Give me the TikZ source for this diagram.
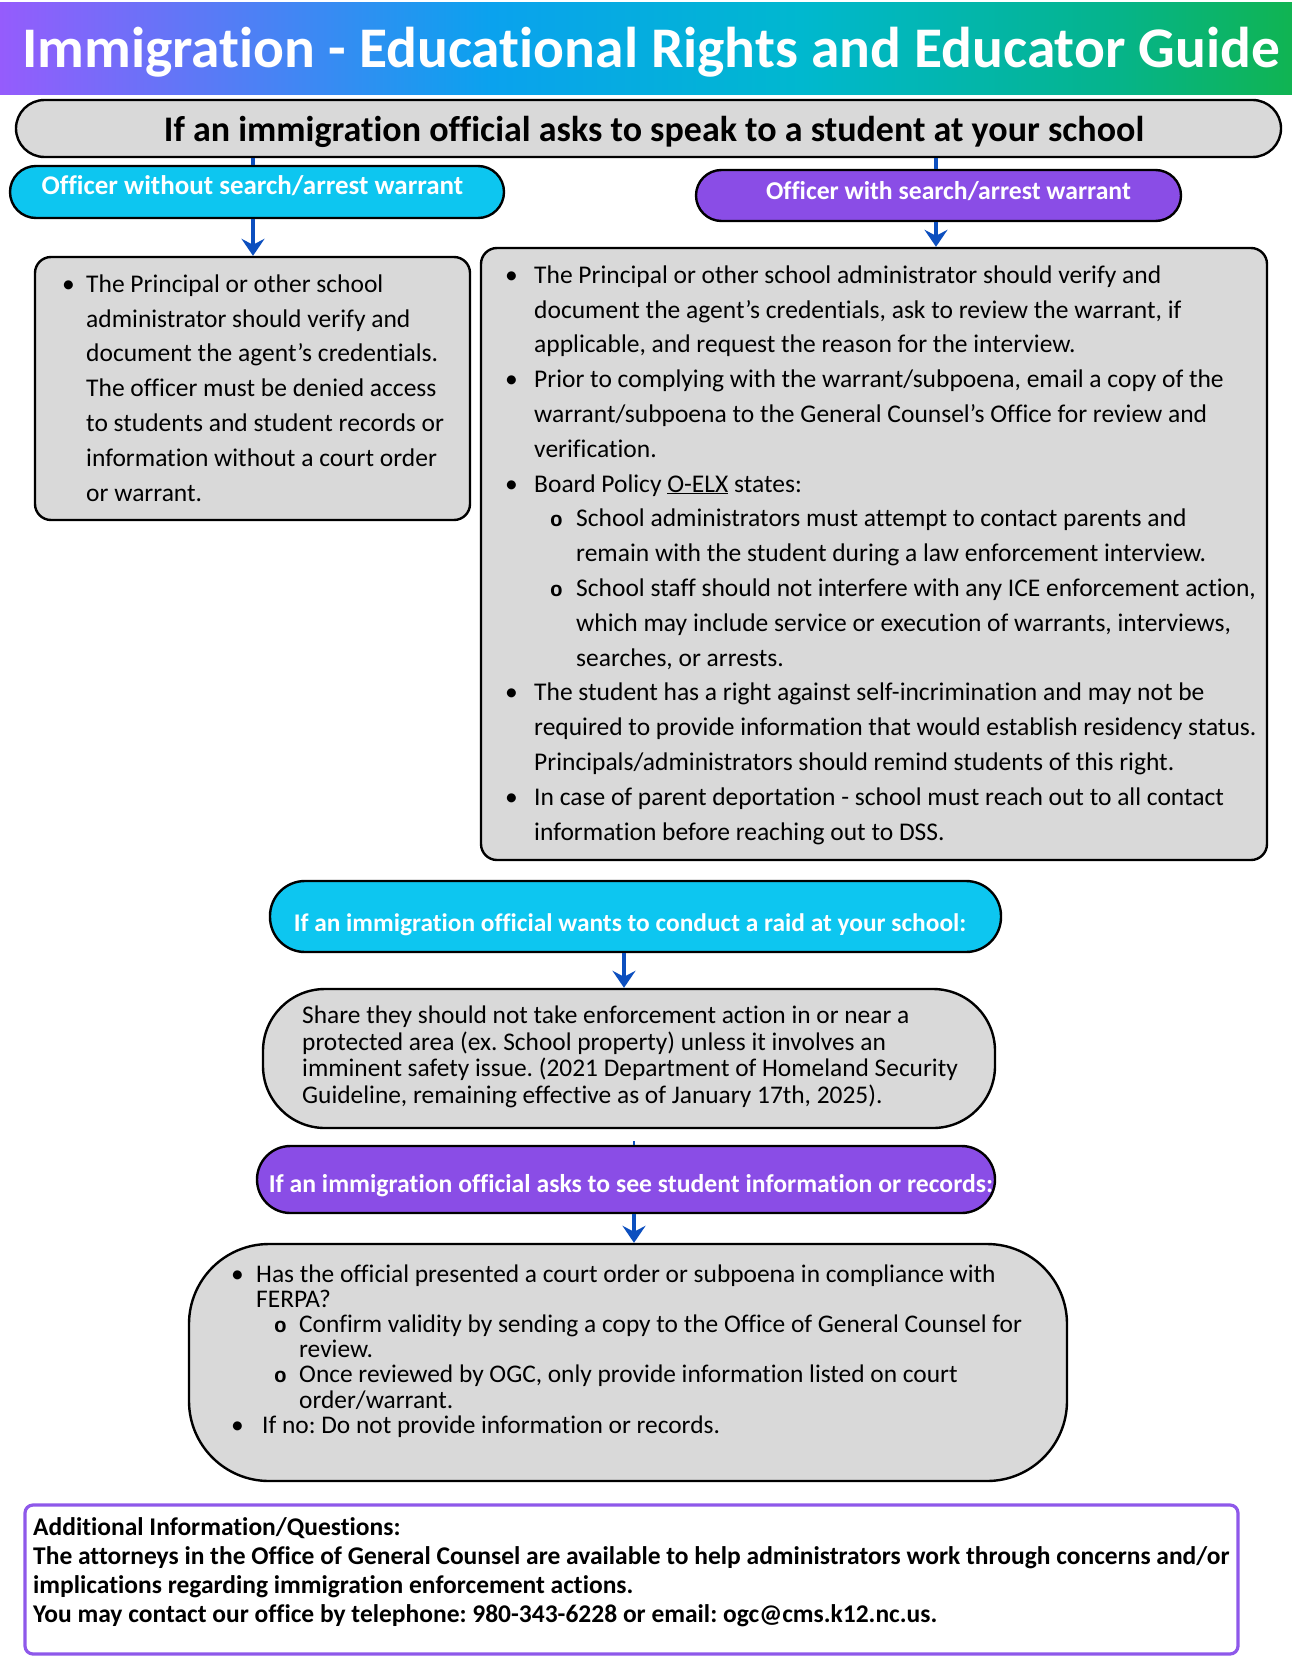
\documentclass[tikz,border=0pt]{standalone}
\usepackage{fontspec}
\setmainfont{Carlito}[Ligatures=NoCommon]
\newfontfamily\monof{Liberation Mono}
\usetikzlibrary{arrows.meta}
\definecolor{tpurple}{HTML}{955CFC}
\definecolor{tblue}{HTML}{0AA2EE}
\definecolor{tteal}{HTML}{00B8CF}
\definecolor{tgreenA}{HTML}{05B48C}
\definecolor{tgreen}{HTML}{10B452}
\definecolor{cyanfill}{HTML}{0DC6F0}
\definecolor{purplefill}{HTML}{8A4DE6}
\definecolor{grayfill}{HTML}{D9D9D9}
\definecolor{arrowblue}{HTML}{0C4FBF}
\definecolor{infopurple}{HTML}{8E58EA}
\pgfdeclarehorizontalshading{titlegrad}{100bp}{color(0bp)=(tpurple); color(25bp)=(tpurple); color(44bp)=(tblue); color(56bp)=(tteal); color(68bp)=(tgreenA); color(75bp)=(tgreen); color(100bp)=(tgreen)}
\newcommand\SA{\rule[-10pt]{0pt}{34.8pt}}
\newcommand\SB{\rule[-7.3pt]{0pt}{25.3pt}}
\newcommand\SC{\rule[-7.17pt]{0pt}{25.17pt}}
\newcommand\SD{\rule[-9pt]{0pt}{29pt}}
\newcommand\Bu[1]{\makebox[#1][l]{\textbullet}}
\newcommand\Ci[1]{\makebox[#1][l]{{\monof\bfseries\fontsize{21}{21}\selectfont o}}}
\tikzset{
  shapebox/.style={draw=black, line width=2.4pt, inner sep=0pt, rectangle},
  graybox/.style={shapebox, fill=grayfill},
  conn/.style={draw=arrowblue, line width=3.5pt},
  arr/.style={conn, -{Stealth[length=17pt,width=23pt,inset=6pt]}},
  txt/.style={anchor=north west, inner sep=0pt, align=left},
  pilltxt/.style={anchor=base, inner sep=0pt, text=white, font=\fontsize{25.7}{30}\selectfont\bfseries}
}
\begin{document}
\frenchspacing
\begin{tikzpicture}[x=1pt,y=-1pt]
\useasboundingbox (0,0) rectangle (1292,1672);
\fill[white] (0,0) rectangle (1292,1672);
% title banner
\fill[shading=titlegrad] (0,3) rectangle (1292,95);
\node[anchor=base, inner sep=0pt, text=white, font=\fontsize{57.5}{64}\selectfont\bfseries] (tTitle) at (651,68) {Immigration - Educational Rights and Educator Guide};
% header
\node[graybox, rounded corners=28.5pt, minimum width=1265pt, minimum height=57pt] (hdr) at (648.5,128.5) {};
\node[anchor=base, inner sep=0pt, font=\fontsize{36}{42}\selectfont\bfseries] (tHdr) at (654,142) {If an immigration official asks to speak to a student at your school};
% officer pills
\node[shapebox, fill=cyanfill, rounded corners=26pt, minimum width=494pt, minimum height=52pt] (pillL) at (257,192) {};
\node[pilltxt, font=\fontsize{27}{30}\selectfont\bfseries] (tPL) at (252.5,195) {Officer without search/arrest warrant};
\node[shapebox, fill=purplefill, rounded corners=25.5pt, minimum width=485pt, minimum height=51pt] (pillR) at (938.5,195.5) {};
\node[pilltxt] (tPR) at (948.5,200) {Officer with search/arrest warrant};
% left box
\node[graybox, rounded corners=16pt, minimum width=435pt, minimum height=263pt] (boxL) at (252.5,388.5) {};
\node[txt, font=\fontsize{25.5}{34.8}\selectfont] (tLeft) at (62,267.2) {%
\SA\Bu{24pt}The Principal or other school\\
\SA\hspace*{24pt}administrator should verify and\\
\SA\hspace*{24pt}document the agent’s credentials.\\
\SA\hspace*{24pt}The officer must be denied access\\
\SA\hspace*{24pt}to students and student records or\\
\SA\hspace*{24pt}information without a court order\\
\SA\hspace*{24pt}or warrant.};
% right box
\node[graybox, rounded corners=16pt, minimum width=786pt, minimum height=612pt] (boxR) at (874,554) {};
\node[txt, font=\fontsize{25.5}{34.8}\selectfont] (tRight) at (505,258.2) {%
\SA\Bu{29pt}The Principal or other school administrator should verify and\\
\SA\hspace*{29pt}document the agent’s credentials, ask to review the warrant, if\\
\SA\hspace*{29pt}applicable, and request the reason for the interview.\\
\SA\Bu{29pt}Prior to complying with the warrant/subpoena, email a copy of the\\
\SA\hspace*{29pt}warrant/subpoena to the General Counsel’s Office for review and\\
\SA\hspace*{29pt}verification.\\
\SA\Bu{29pt}Board Policy \underline{O-ELX} states:\\
\SA\hspace*{45pt}\Ci{26pt}School administrators must attempt to contact parents and\\
\SA\hspace*{71pt}remain with the student during a law enforcement interview.\\
\SA\hspace*{45pt}\Ci{26pt}School staff should not interfere with any ICE enforcement action,\\
\SA\hspace*{71pt}which may include service or execution of warrants, interviews,\\
\SA\hspace*{71pt}searches, or arrests.\\
\SA\Bu{29pt}The student has a right against self-incrimination and may not be\\
\SA\hspace*{29pt}required to provide information that would establish residency status.\\
\SA\hspace*{29pt}Principals/administrators should remind students of this right.\\
\SA\Bu{29pt}In case of parent deportation - school must reach out to all contact\\
\SA\hspace*{29pt}information before reaching out to DSS.};
% raid
\node[shapebox, fill=cyanfill, rounded corners=35pt, minimum width=731pt, minimum height=71pt] (raidP) at (635.5,916.5) {};
\node[pilltxt, font=\fontsize{25.4}{30}\selectfont\bfseries] (tRaidP) at (630,931) {If an immigration official wants to conduct a raid at your school:};
\node[graybox, rounded corners=62pt, minimum width=732pt, minimum height=139pt] (raidB) at (629,1058.5) {};
\node[txt, font=\fontsize{25.4}{25.3}\selectfont] (tRaid) at (302,1005) {%
\SB Share they should not take enforcement action in or near a\\
\SB protected area (ex. School property) unless it involves an\\
\SB imminent safety issue. (2021 Department of Homeland Security\\
\SB Guideline, remaining effective as of January 17th, 2025).};
% records
\node[shapebox, fill=purplefill, rounded corners=33.5pt, minimum width=738pt, minimum height=67pt] (recP) at (626,1179.5) {};
\node[pilltxt, font=\fontsize{25.7}{30}\selectfont\bfseries] (tRecP) at (631,1192) {If an immigration official asks to see student information or records:};
\node[graybox, rounded corners=80pt, minimum width=878pt, minimum height=237pt] (recB) at (628,1362.5) {};
\node[txt, font=\fontsize{25.4}{25.17}\selectfont] (tRec) at (231,1264) {%
\SC\Bu{25pt}Has the official presented a court order or subpoena in compliance with\\
\SC\hspace*{25pt}FERPA?\\
\SC\hspace*{43pt}\Ci{25pt}Confirm validity by sending a copy to the Office of General Counsel for\\
\SC\hspace*{68pt}review.\\
\SC\hspace*{43pt}\Ci{25pt}Once reviewed by OGC, only provide information listed on court\\
\SC\hspace*{68pt}order/warrant.\\
\SC\Bu{31pt}If no: Do not provide information or records.};
% info box
\node[draw=infopurple, line width=3.2pt, fill=white, rounded corners=8pt, inner sep=0pt, minimum width=1213pt, minimum height=149pt] (info) at (631.5,1579.5) {};
\node[txt, font=\fontsize{25.5}{29}\selectfont\bfseries] (tInfo) at (33,1515) {%
\SD Additional Information/Questions:\\
\SD The attorneys in the Office of General Counsel are available to help administrators work through concerns and/or\\
\SD implications regarding immigration enforcement actions.\\
\SD You may contact our office by telephone: 980-343-6228 or email: ogc@cms.k12.nc.us.};
% connectors
\coordinate (cL) at (253,0);
\coordinate (cR) at (936,0);
\coordinate (cA) at (624,0);
\coordinate (cB) at (634,0);
\coordinate (stub) at (634,1141);
\draw[conn] (hdr.south -| cL) -- (pillL.north -| cL);
\draw[arr] (pillL.south -| cL) -- (boxL.north -| cL);
\draw[conn] (hdr.south -| cR) -- (pillR.north -| cR);
\draw[arr] (pillR.south -| cR) -- (boxR.north -| cR);
\draw[arr] (raidP.south -| cA) -- (raidB.north -| cA);
\draw[conn, line width=2pt] (stub) -- (recP.north -| cB);
\draw[arr] (recP.south -| cB) -- (recB.north -| cB);
\end{tikzpicture}
\end{document}
